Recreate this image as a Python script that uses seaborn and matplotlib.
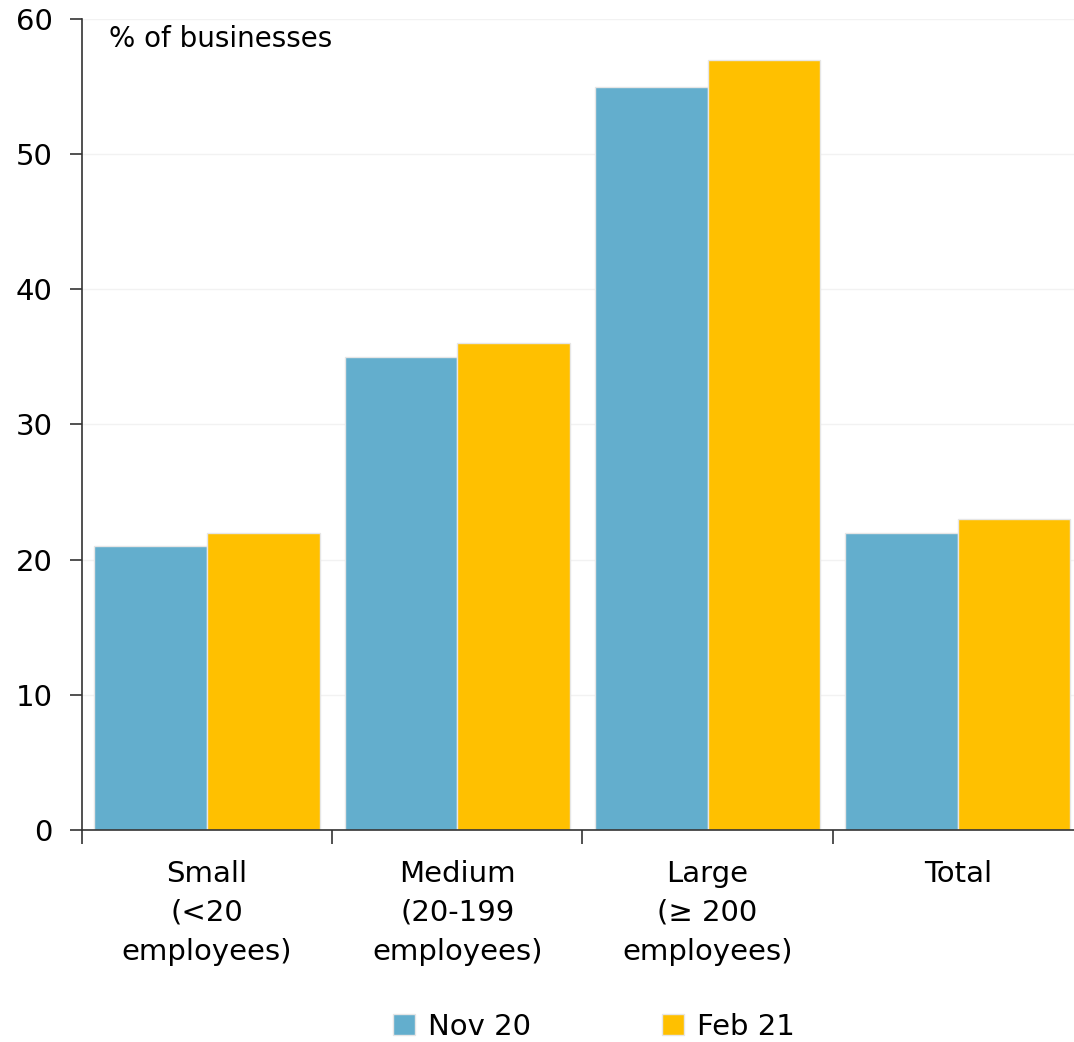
import pandas as pd
import matplotlib.pyplot as plt
import seaborn as sns

# data
groups = ['Small\n(<20\nemployees)', 'Medium\n(20-199\nemployees)',
          'Large\n(≥ 200\nemployees)', 'Total']
nov20 = [21, 35, 55, 22]
feb21 = [22, 36, 57, 23]
series = ['Nov 20', 'Feb 21']

df = pd.DataFrame({
    'group': groups * 2,
    'value': nov20 + feb21,
    'period': [series[0]] * 4 + [series[1]] * 4,
})

sns.set_style('white')
plt.rcParams['font.family'] = ['DejaVu Sans']
plt.rcParams['text.color'] = 'black'
plt.rcParams['xtick.labelcolor'] = 'black'
plt.rcParams['ytick.labelcolor'] = 'black'

fig = plt.figure(figsize=(10.74, 10.42), dpi=100)
ax = fig.add_axes([0.0763, 0.2035, 0.932, 0.7783])

pal = {'Nov 20': '#63AECD', 'Feb 21': '#FFC000'}
sns.barplot(data=df, x='group', y='value', hue='period', palette=pal,
            width=0.9, saturation=1, edgecolor='#e6e6e6', linewidth=1,
            ax=ax, legend=False)

ax.set_xlim(-0.5, 3.5)
ax.set_ylim(0, 60)
ax.set_yticks(range(0, 61, 10))
ax.yaxis.grid(True, color='#f2f2f2', linewidth=1)
ax.set_axisbelow(True)
for s in ['top', 'right']:
    ax.spines[s].set_visible(False)
for s in ['left', 'bottom']:
    ax.spines[s].set_color('#333333')
    ax.spines[s].set_linewidth(1.2)

fs = 20
ax.set_xlabel('')
ax.set_ylabel('')
ax.tick_params(axis='y', left=True, length=9, width=1.2, color='#333333',
               labelsize=fs + 1, pad=12)
ax.tick_params(axis='x', bottom=False, labelsize=fs + 1, pad=18)
ax.set_xticks([-0.5, 0.5, 1.5, 2.5], minor=True)
ax.tick_params(axis='x', which='minor', bottom=True, length=10, width=1.2,
               color='#333333')
for lab in ax.get_xticklabels():
    lab.set_linespacing(1.5)

ax.text(0.027, 0.993, '% of businesses', transform=ax.transAxes,
        fontsize=fs, va='top', ha='left')

handles = [plt.Rectangle((0, 0), 1, 1, facecolor=pal[s], edgecolor='#e6e6e6')
           for s in series]
fig.legend(handles, series, loc='lower center', bbox_to_anchor=(0.553, -0.024),
           ncol=2, frameon=False, fontsize=fs + 1, columnspacing=4.5,
           handlelength=0.75, handleheight=0.75, handletextpad=0.45)

fig.savefig('out.png', dpi=100)
